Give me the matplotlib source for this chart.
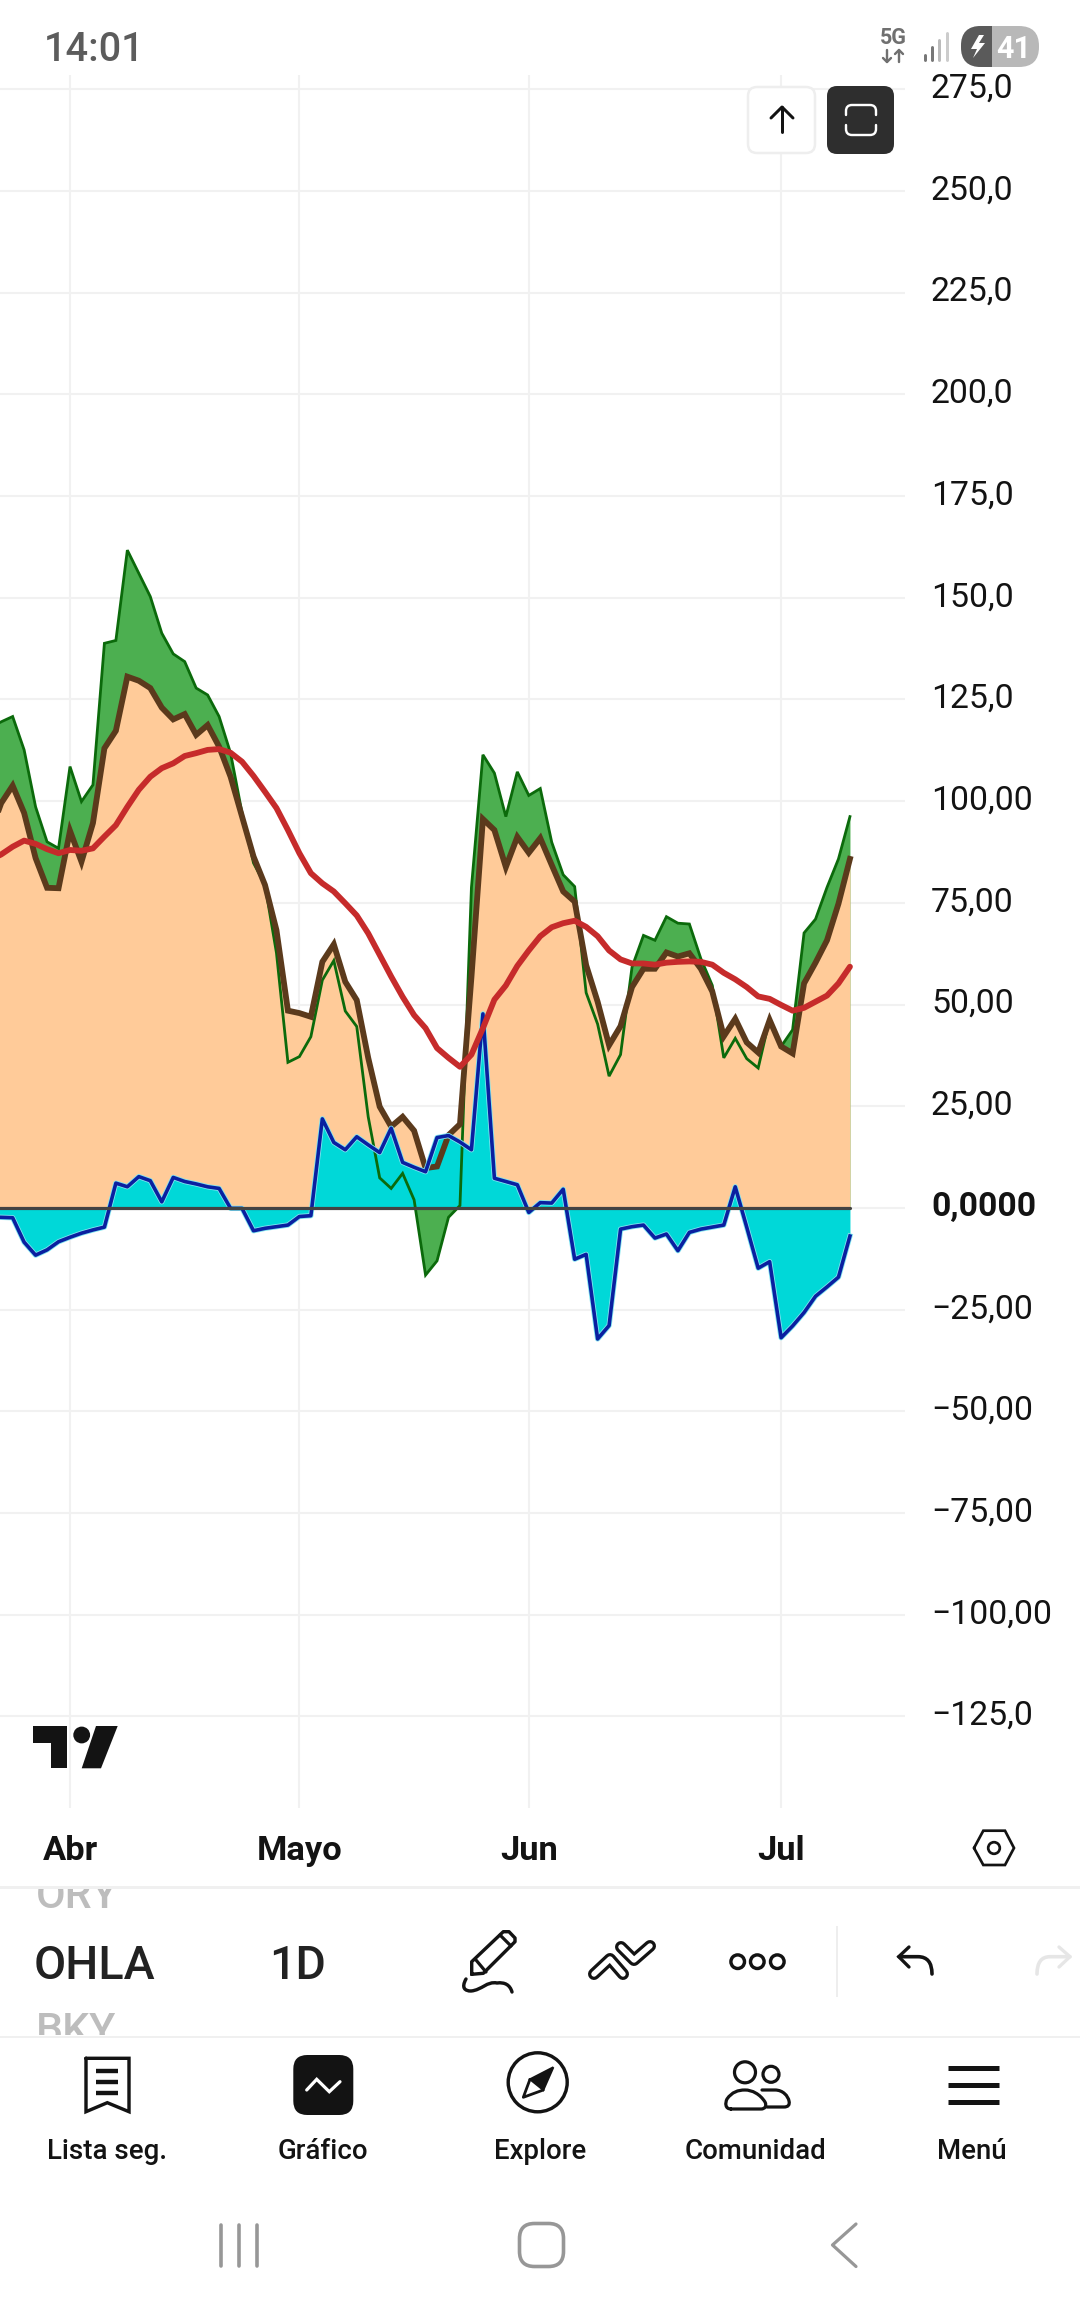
import numpy as np
import matplotlib
matplotlib.use("Agg")
import matplotlib.pyplot as plt
from matplotlib.patches import Polygon, Circle, FancyBboxPatch, Rectangle, PathPatch
from matplotlib.path import Path
from matplotlib.transforms import ScaledTranslation

W, H = 1080, 2316
plt.rcParams["font.family"] = ["Roboto", "DejaVu Sans"]

# Daily sessions, numbered from the first session of April
sessions = np.arange(-7, 69)

upper_osc = [118.0, 119.5, 120.8, 112.6, 98.6, 90.0, 88.4, 108.5, 99.9, 104.0, 138.8, 139.5,
             161.7, 156.0, 150.3, 141.3, 136.2, 134.3, 127.8, 126.1, 120.8, 111.8, 97.1, 84.8,
             79.4, 62.7, 35.8, 37.2, 42.1, 56.0, 60.8, 48.4, 44.6, 22.4, 7.4, 4.8,
             8.5, 2.0, -16.5, -13.0, -2.3, 0.6, 78.8, 111.4, 106.9, 96.2, 107.2, 101.4,
             103.1, 89.9, 81.9, 79.0, 52.9, 45.2, 32.4, 37.7, 59.2, 67.0, 65.8, 71.6,
             70.0, 69.8, 61.3, 54.7, 36.9, 41.7, 36.7, 34.4, 46.5, 39.7, 43.8, 67.6,
             71.0, 78.8, 85.8, 96.2]

main_osc = [91.7, 99.5, 103.8, 97.1, 86.0, 78.7, 78.6, 92.7, 85.1, 94.6, 113.0, 117.3,
            130.6, 129.6, 127.8, 123.0, 120.1, 121.4, 116.3, 118.7, 113.4, 106.0, 96.2, 86.4,
            79.4, 68.3, 48.5, 47.9, 47.0, 60.5, 64.8, 55.6, 51.1, 36.9, 24.9, 20.0,
            22.4, 19.0, 9.8, 10.2, 17.9, 20.6, 56.8, 95.6, 92.9, 83.8, 91.2, 87.3,
            90.9, 84.3, 77.8, 75.3, 59.7, 50.7, 40.0, 44.7, 54.3, 58.8, 58.8, 62.8,
            61.8, 62.6, 58.8, 53.2, 42.2, 46.5, 40.7, 38.2, 46.2, 39.7, 38.0, 55.2,
            60.3, 65.8, 74.8, 85.8]

signal_avg = [85.5, 86.9, 88.8, 90.3, 89.5, 88.2, 87.2, 88.0, 87.8, 88.4, 91.3, 94.1,
              98.6, 102.8, 106.0, 108.1, 109.3, 111.1, 111.8, 112.6, 112.8, 111.9, 109.7, 106.2,
              102.3, 98.3, 92.9, 87.2, 82.3, 79.8, 77.8, 74.9, 71.9, 67.5, 62.2, 56.9,
              51.9, 47.4, 44.2, 39.3, 36.9, 34.7, 37.7, 44.2, 51.2, 54.7, 59.5, 63.3,
              66.8, 69.0, 70.0, 70.6, 69.1, 66.8, 63.3, 61.1, 60.1, 60.1, 59.8, 60.3,
              60.5, 60.6, 60.5, 59.8, 57.8, 56.2, 54.3, 52.0, 51.4, 49.9, 48.5, 49.2,
              50.7, 52.2, 55.2, 59.3]

histogram = [-2.2, -2.3, -2.4, -8.4, -11.6, -10.3, -8.3, -7.2, -6.2, -5.4, -4.7, 6.1,
             5.2, 7.7, 6.7, 1.5, 7.5, 6.5, 5.9, 5.2, 4.8, -0.1, -0.1, -5.6,
             -5.0, -4.6, -4.2, -2.1, -1.9, 21.9, 16.1, 14.3, 17.5, 15.5, 13.6, 19.6,
             11.2, 10.0, 8.9, 17.3, 17.8, 16.2, 14.3, 47.7, 7.3, 6.5, 5.7, -1.1,
             1.3, 1.2, 4.6, -12.6, -11.4, -32.2, -28.9, -5.2, -4.6, -4.2, -7.4, -6.4,
             -10.5, -6.0, -5.2, -4.7, -4.2, 5.2, -4.7, -14.8, -13.2, -31.9, -29.0, -25.7,
             -21.7, -19.4, -17.0, -6.9]

month_positions = [0, 20, 40, 62]
month_labels = ["Abr", "Mayo", "Jun", "Jul"]
value_ticks = [275, 250, 225, 200, 175, 150, 125, 100, 75, 50, 25, 0,
               -25, -50, -75, -100, -125]
value_labels = ["275,0", "250,0", "225,0", "200,0", "175,0", "150,0", "125,0", "100,00",
                "75,00", "50,00", "25,00", "0,0000", "\u221225,00", "\u221250,00",
                "\u221275,00", "\u2212100,00", "\u2212125,0"]

INK = "#131313"
GRID = "#f1f1f1"

fig = plt.figure(figsize=(W / 100, H / 100), dpi=100, facecolor="white")

# --- price pane -------------------------------------------------------------
left, right, top, bottom = 0, 905, 75, 1808
ax = fig.add_axes([left / W, 1 - bottom / H, (right - left) / W, (bottom - top) / H])
ax.set_xlim(-6.103, 72.8)
ax.set_ylim(-147.5, 278.5)
for spine in ax.spines.values():
    spine.set_visible(False)
ax.set_axisbelow(True)
ax.grid(True, color=GRID, lw=1.5)

ax.fill_between(sessions, 0, upper_osc, color="#4caf50", lw=0, zorder=2)
ax.fill_between(sessions, 0, main_osc, color="#ffcb99", lw=0, zorder=3)
ax.fill_between(sessions, 0, histogram, color="#00d8d8", lw=0, zorder=4)
ax.plot(sessions, upper_osc, color="#0b6a0b", lw=2.0, zorder=5, solid_joinstyle="miter")
ax.plot(sessions, main_osc, color="#5b3a1c", lw=4.2, zorder=6, solid_joinstyle="miter")
ax.plot(sessions, histogram, color="#7fe6f0", lw=3.8, zorder=7)
ax.plot(sessions, histogram, color="#0a1fa0", lw=2.6, zorder=7.5)
ax.plot(sessions, signal_avg, color="#c62b2b", lw=4.2, zorder=8, solid_capstyle="round")
ax.plot([sessions[0], sessions[-1]], [0, 0], color="#434343", lw=2.3, zorder=9,
        solid_capstyle="round")

ax.yaxis.tick_right()
ax.set_yticks(value_ticks)
ax.set_yticklabels(value_labels, fontsize=24.3, color=INK)
ax.get_yticklabels()[value_ticks.index(0)].set_fontweight("bold")
ax.set_xticks(month_positions)
ax.set_xticklabels(month_labels, fontsize=24.8, color=INK, fontweight="semibold")
ax.tick_params(axis="y", length=0, pad=18.7)
ax.tick_params(axis="x", length=0, pad=19.5)
# value labels sit slightly above their gridlines
label_lift = ScaledTranslation(0, 4 / 100, fig.dpi_scale_trans)
for tick_label in ax.get_yticklabels():
    tick_label.set_transform(tick_label.get_transform() + label_lift)

# --- interface chrome, laid out in screen pixels -----------------------------
ui = fig.add_axes([0, 0, 1, 1], zorder=20)
ui.set_xlim(0, W)
ui.set_ylim(H, 0)
ui.axis("off")
ui.patch.set_alpha(0)


def line(points, color=INK, width=3.0, cap="round", join="round"):
    xs, ys = zip(*points)
    ui.plot(xs, ys, color=color, lw=width * 0.72, solid_capstyle=cap, solid_joinstyle=join)


def rounded(x0, y0, x1, y1, r, face, edge="none", width=0.0):
    patch = FancyBboxPatch((x0 + r, y0 + r), x1 - x0 - 2 * r, y1 - y0 - 2 * r,
                           boxstyle=f"round,pad={r},rounding_size={r}",
                           fc=face, ec=edge, lw=width * 0.72)
    ui.add_patch(patch)
    return patch


def ring(cx, cy, r, color=INK, width=3.0):
    ui.add_patch(Circle((cx, cy), r, fc="none", ec=color, lw=width * 0.72))


def curve(codes_points, color=INK, width=3.0):
    verts = [p for _, p in codes_points]
    codes = [c for c, _ in codes_points]
    ui.add_patch(PathPatch(Path(verts, codes), fc="none", ec=color, lw=width * 0.72,
                           capstyle="round", joinstyle="round"))


M, L, Q, C = Path.MOVETO, Path.LINETO, Path.CURVE3, Path.CURVE4

# status bar
ui.text(94, 50, "14:01", fontsize=28.5, color="#5c5c5c", fontweight="medium", ha="center", va="center")
ui.text(893, 38, "5G", fontsize=15.5, color="#707070", fontweight="bold", ha="center", va="center")
for ax_x, tip, tail in ((887, 62, 50), (899, 50, 62)):
    line([(ax_x, tail), (ax_x, tip)], "#707070", 2.4)
    line([(ax_x - 4, tip + (4 if tip < tail else -4)), (ax_x, tip),
          (ax_x + 4, tip + (4 if tip < tail else -4))], "#707070", 2.4)
for bar_x, bar_top, tone in ((925, 55, "#777777"), (932, 47, "#777777"),
                             (939, 40, "#bbbbbb"), (947, 33, "#cccccc")):
    line([(bar_x, 60), (bar_x, bar_top)], tone, 3.0)
pill_dark = rounded(961, 26, 1039, 67, 20, "#b8b8b8")
dark = ui.add_patch(Rectangle((961, 26), 31, 41, fc="#5a5a5a", ec="none"))
dark.set_clip_path(pill_dark.get_path(), pill_dark.get_transform())
ui.add_patch(Polygon([(979, 35), (971, 49), (977, 49), (973, 58), (985, 43), (979, 43), (984, 35)],
                     fc="white", ec="none"))
ui.text(1014, 49, "41", fontsize=22, color="white", fontweight="bold", ha="center", va="center")

# chart buttons
rounded(748, 87, 815, 153, 9, "white", "#eeeeee", 2.5)
line([(782, 107), (782, 132)], INK, 3)
line([(771, 118), (782, 107), (793, 118)], INK, 3)
rounded(827, 86, 894, 154, 10, "#2e2e2e")
curve([(M, (846, 115)), (L, (846, 111)), (Q, (846, 105)), (Q, (852, 105)), (L, (870, 105)),
       (Q, (876, 105)), (Q, (876, 111)), (L, (876, 115))], "white", 2.4)
curve([(M, (846, 125)), (L, (846, 129)), (Q, (846, 135)), (Q, (852, 135)), (L, (870, 135)),
       (Q, (876, 135)), (Q, (876, 129)), (L, (876, 125))], "white", 2.4)

# watermark logo
ui.add_patch(Polygon([(33.3, 1726), (67.3, 1726), (67.3, 1768.3), (50.7, 1768.3), (50.7, 1742.7),
                      (33.3, 1742.7)], fc=INK, ec="none"))
ui.add_patch(Circle((81.7, 1735), 8.4, fc=INK, ec="none"))
ui.add_patch(Polygon([(96, 1726), (117.7, 1726), (101, 1768.3), (81.7, 1768.3)], fc=INK, ec="none"))

# settings hexagon on the time axis
line([(974, 1848), (983.3, 1830.7), (1005, 1830.7), (1014, 1848), (1005, 1865), (983.3, 1865),
      (974, 1848)], INK, 2.7, join="miter")
ring(994, 1848, 5.8, INK, 2.7)

# symbol picker: neighbouring tickers scroll out of view behind the separators
for name, baseline, y0, y1 in (("ORY", 1908, 1889, 1930), ("BKY", 2043, 2000, 2035)):
    scrolled = ui.text(36, baseline, name, fontsize=31, color="#bdbdbd", ha="left", va="baseline",
                       fontweight="medium", clip_on=True)
    scrolled.set_clip_path(Rectangle((0, y0), W, y1 - y0, transform=ui.transData))
ui.text(94, 1966, "OHLA", fontsize=33.6, color="#222222", fontweight="medium", ha="center", va="center")
ui.text(298, 1966, "1D", fontsize=33.6, color="#222222", fontweight="medium", ha="center", va="center")

# separators
ui.add_patch(Rectangle((0, 1885.5), W, 3, fc="#f0f0f0", ec="none"))
ui.add_patch(Rectangle((0, 2035.5), W, 2.5, fc="#f0f0f0", ec="none"))
ui.add_patch(Rectangle((836, 1926), 2, 71, fc="#eeeeee", ec="none"))

# drawing tools
line([(471.7, 1974.3), (471.7, 1961.7), (503.3, 1931.7), (509, 1931.7), (515, 1938), (515, 1941.7),
      (483.3, 1973.3), (471.7, 1974.3)], INK, 3.4)
line([(476, 1960), (486, 1972)], INK, 3.2)
line([(500, 1935), (511, 1946)], INK, 3.2)
curve([(M, (466, 1979)), (C, (461, 1988)), (C, (465, 1991)), (C, (471, 1991)),
       (C, (482, 1990)), (C, (487, 1981)), (C, (497, 1983)),
       (C, (505, 1982)), (C, (510, 1985)), (C, (512, 1992))], INK, 3.4)

for stroke in ([(594, 1974), (610, 1959), (623, 1974)], [(621, 1947), (634, 1960), (650, 1946)]):
    line(stroke, INK, 12)
    line(stroke, "white", 5.5)

for cx in (737.7, 757.3, 777.3):
    ring(cx, 1961.7, 6.8, INK, 3.4)

line([(909, 1947), (898.7, 1956.7), (909, 1967)], INK, 3.3, join="miter")
curve([(M, (899, 1956.7)), (L, (918, 1956.7)), (Q, (932, 1956.7)), (Q, (932, 1974))], INK, 3.6)
line([(1059, 1947), (1070, 1956.7), (1059, 1967)], "#e6e6e6", 3.3)
curve([(M, (1070, 1956.7)), (L, (1050, 1956.7)), (Q, (1037, 1956.7)), (Q, (1037, 1974))], "#e6e6e6", 3.6)

# bottom navigation
nav_labels = ["Lista seg.", "Gráfico", "Explore", "Comunidad", "Menú"]
nav_centers = [107, 323, 540, 756, 972]
for name, cx in zip(nav_labels, nav_centers):
    ui.text(cx, 2151.5, name, fontsize=19.9, color=INK, fontweight="medium", ha="center", va="center")

# watchlist ribbon
line([(86, 2058.3), (129, 2058.3), (129, 2111.7), (107.3, 2102.7), (86, 2111.7), (86, 2058.3)],
     INK, 3.4, join="miter")
for y in (2070.7, 2081.7, 2092.7):
    line([(96, y), (118.3, y)], INK, 4.4, cap="butt")

# chart tab
rounded(293.3, 2055, 353.3, 2115, 14, INK)
line([(306.7, 2090), (316.7, 2079.3), (329.3, 2091.7), (340, 2081.7)], "white", 3.2, join="miter")

# compass
ring(537.7, 2082.3, 29.5, INK, 3.4)
ui.add_patch(Polygon([(553.3, 2067.3), (530, 2079.3), (543.3, 2090)], fc=INK, ec=INK, lw=1.5))
line([(530, 2079.3), (523.3, 2097.3), (543.3, 2090)], INK, 2.8)

# community figures
ring(745, 2072.3, 10.5, INK, 3.2)
ring(771, 2074.3, 8, INK, 3.2)
curve([(M, (731, 2109)), (C, (725, 2109)), (C, (725, 2103)), (C, (727, 2099)),
       (C, (732, 2092)), (C, (738, 2090)), (C, (745, 2090)),
       (C, (752, 2090)), (C, (760, 2094)), (C, (765, 2102)),
       (C, (767, 2106)), (C, (765, 2109)), (C, (761, 2109)), (L, (731, 2109))], INK, 3.2)
curve([(M, (762, 2090)), (L, (775, 2090)), (C, (783, 2090)), (C, (788, 2096)), (C, (789, 2101)),
       (C, (790, 2105)), (C, (788, 2107)), (C, (784, 2107)), (L, (767, 2107))], INK, 3.2)

# menu
for y in (2068, 2085, 2102):
    line([(948, y), (998.5, y)], INK, 5, cap="butt")

# system navigation bar
GREY = "#979797"
for x in (221, 239, 256.6):
    line([(x, 2225), (x, 2265.5)], GREY, 3.6)
rounded(519.5, 2223.5, 563.5, 2266.5, 15, "none", GREY, 3.6)
line([(856, 2224), (832.5, 2245), (856, 2266.5)], GREY, 3.2)

fig.savefig("out.png", dpi=100, facecolor="white")
